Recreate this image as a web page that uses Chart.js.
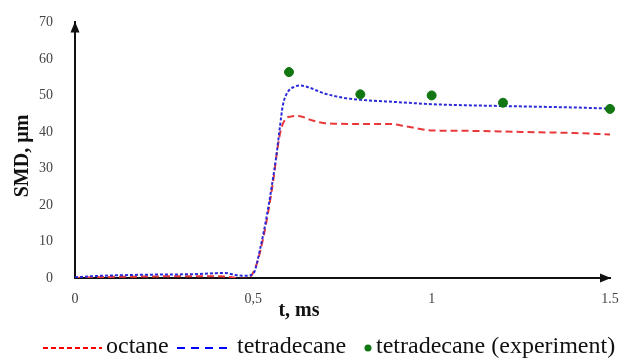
<!DOCTYPE html>
<html>
<head>
<meta charset="utf-8">
<script src="https://cdn.jsdelivr.net/npm/chart.js@4.4.0/dist/chart.umd.min.js"></script>
<style>
  html, body { margin: 0; padding: 0; background: #fff; }
  #wrap { position: relative; width: 622px; height: 362px; }
</style>
</head>
<body>
<div id="wrap"><canvas id="smdChart" width="622" height="362"></canvas></div>
<script>
// Sauter mean diameter vs time (t in ms, SMD in µm)
const octaneT   = [0, 0.05, 0.1, 0.15, 0.2, 0.25, 0.3, 0.35, 0.4, 0.44, 0.47, 0.49, 0.51, 0.53, 0.545, 0.557, 0.567, 0.577, 0.59, 0.605, 0.627, 0.66, 0.7, 0.79, 0.88, 0.93, 1.0, 1.1, 1.25, 1.4, 1.5];
const octaneSMD = [0, 0.2, 0.3, 0.35, 0.4, 0.45, 0.5, 0.5, 0.5, 0.2, -0.2, 0.2, 4, 12, 20, 27.5, 35, 40.5, 43.5, 44.2, 44.4, 43.3, 42.4, 42.2, 42.2, 41.5, 40.4, 40.3, 40.0, 39.7, 39.3];

const tetraT   = [0, 0.05, 0.1, 0.15, 0.2, 0.25, 0.3, 0.35, 0.39, 0.42, 0.45, 0.48, 0.5, 0.52, 0.537, 0.551, 0.565, 0.574, 0.583, 0.597, 0.616, 0.632, 0.658, 0.697, 0.75, 0.8, 0.9, 1.0, 1.1, 1.2, 1.3, 1.4, 1.5];
const tetraSMD = [0.2, 0.5, 0.7, 0.8, 0.9, 0.95, 1.0, 1.1, 1.3, 1.4, 0.8, 0.6, 1.2, 8.4, 16.6, 24.7, 33.8, 41, 47.4, 51, 52.4, 52.7, 52.1, 50.6, 49.4, 48.8, 48.2, 47.6, 47.3, 47.1, 46.9, 46.7, 46.4];

const expT   = [0.6, 0.8, 1.0, 1.2, 1.5];
const expSMD = [56.4, 50.3, 50.0, 48.0, 46.3];

const xTicks = [0, 0.5, 1, 1.5];
const xTickLabels = ['0', '0,5', '1', '1.5'];
const seriesNames = ['octane', 'tetradecane', 'tetradecane (experiment)'];

const RED = '#e8383a';
const BLUE = '#2a2ad8';
const GREEN = '#127612';
const SERIF = '"Liberation Serif", "Times New Roman", serif';

const toPoints = (ts, vs) => ts.map((t, i) => ({ x: t, y: vs[i] }));

// arrows on the axes, axis titles and the legend row under the chart
const axisDecor = {
    id: 'axisDecor',
    afterDraw(chart) {
        const { ctx, chartArea: a } = chart;
        ctx.save();
        ctx.fillStyle = '#111';

        // y arrowhead
        ctx.beginPath();
        ctx.moveTo(a.left, a.top - 1);
        ctx.lineTo(a.left - 4.5, a.top + 10);
        ctx.lineTo(a.left + 4.5, a.top + 10);
        ctx.closePath();
        ctx.fill();

        // x arrowhead
        ctx.beginPath();
        ctx.moveTo(a.right + 1, a.bottom);
        ctx.lineTo(a.right - 10, a.bottom - 4.5);
        ctx.lineTo(a.right - 10, a.bottom + 4.5);
        ctx.closePath();
        ctx.fill();

        // axis titles
        ctx.font = 'bold 20px ' + SERIF;
        ctx.textAlign = 'center';
        ctx.textBaseline = 'alphabetic';
        ctx.fillText('t, ms', 299, 316);

        ctx.save();
        ctx.translate(28, 156);
        ctx.rotate(-Math.PI / 2);
        ctx.fillText('SMD, µm', 0, 0);
        ctx.restore();

        // legend
        const ly = 348;
        ctx.font = '24px ' + SERIF;
        ctx.textAlign = 'left';
        ctx.fillStyle = '#111';

        ctx.lineWidth = 2;
        ctx.strokeStyle = '#ff0000';
        ctx.setLineDash([5, 3]);
        ctx.beginPath(); ctx.moveTo(43, ly); ctx.lineTo(102, ly); ctx.stroke();
        ctx.fillText(seriesNames[0], 106, 353);

        ctx.strokeStyle = '#0000ff';
        ctx.setLineDash([8, 6]);
        ctx.beginPath(); ctx.moveTo(177, ly); ctx.lineTo(233, ly); ctx.stroke();
        ctx.setLineDash([]);
        ctx.fillText(seriesNames[1], 237, 353);

        ctx.fillStyle = GREEN;
        ctx.beginPath(); ctx.arc(368, ly, 3.5, 0, Math.PI * 2); ctx.fill();
        ctx.fillStyle = '#111';
        ctx.fillText(seriesNames[2], 376, 353);

        ctx.restore();
    }
};

new Chart(document.getElementById('smdChart'), {
    type: 'line',
    data: {
        datasets: [
            {
                label: seriesNames[0],
                data: toPoints(octaneT, octaneSMD),
                borderColor: RED,
                borderWidth: 2,
                borderDash: [7, 4],
                pointRadius: 0,
                cubicInterpolationMode: 'monotone',
                order: 2
            },
            {
                label: seriesNames[1],
                data: toPoints(tetraT, tetraSMD),
                borderColor: BLUE,
                borderWidth: 2,
                borderDash: [3, 2],
                pointRadius: 0,
                cubicInterpolationMode: 'monotone',
                order: 1
            },
            {
                label: seriesNames[2],
                data: toPoints(expT, expSMD),
                showLine: false,
                clip: false,
                pointRadius: 4.5,
                pointBackgroundColor: GREEN,
                pointBorderColor: GREEN,
                order: 0
            }
        ]
    },
    options: {
        responsive: false,
        animation: false,
        layout: { padding: { top: 20, right: 12, left: 0, bottom: 0 } },
        plugins: { legend: { display: false }, tooltip: { enabled: false } },
        scales: {
            x: {
                type: 'linear',
                min: 0, max: 1.5,
                grid: { display: false },
                border: { display: true, color: '#111', width: 2 },
                afterBuildTicks: s => { s.ticks = xTicks.map(v => ({ value: v })); },
                afterFit: s => { s.height = 84; s.paddingLeft = 0; s.paddingRight = 0; },
                ticks: {
                    padding: 5,
                    color: '#444',
                    font: { family: SERIF, size: 14 },
                    callback: v => xTickLabels[xTicks.indexOf(v)]
                }
            },
            y: {
                min: 0, max: 70,
                grid: { display: false },
                border: { display: true, color: '#111', width: 2 },
                afterFit: s => { s.width = 75; },
                ticks: {
                    stepSize: 10,
                    padding: 14,
                    color: '#444',
                    font: { family: SERIF, size: 14 }
                }
            }
        }
    },
    plugins: [axisDecor]
});
</script>
</body>
</html>
